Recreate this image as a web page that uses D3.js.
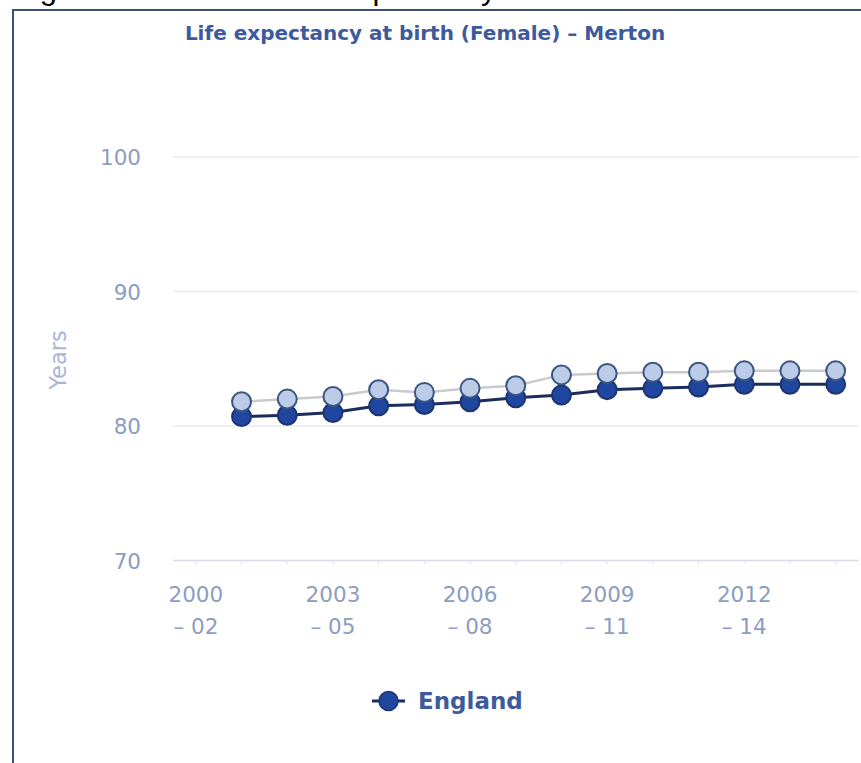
<!DOCTYPE html>
<html>
<head>
<meta charset="utf-8">
<script src="https://cdn.jsdelivr.net/npm/d3@7/dist/d3.min.js"></script>
<style>
  html, body { margin: 0; padding: 0; background: #ffffff; }
  svg { display: block; }
</style>
</head>
<body>
<script>
// Female life expectancy at birth, three-year rolling periods
const categories = [
  "2000 – 02", "2001 – 03", "2002 – 04", "2003 – 05", "2004 – 06",
  "2005 – 07", "2006 – 08", "2007 – 09", "2008 – 10", "2009 – 11",
  "2010 – 12", "2011 – 13", "2012 – 14", "2013 – 15", "2014 – 16"
];
const englandValues = [null, 80.7, 80.8, 81.0, 81.5, 81.6, 81.8, 82.1, 82.3, 82.7, 82.8, 82.9, 83.1, 83.1, 83.1];
const mertonValues  = [null, 81.8, 82.0, 82.2, 82.7, 82.5, 82.8, 83.0, 83.8, 83.9, 84.0, 84.0, 84.1, 84.1, 84.1];
const yTicks = [70, 80, 90, 100];
const xLabelEvery = 3;

const W = 861, H = 763;
const svg = d3.select("body").append("svg").attr("width", W).attr("height", H);

// Caption above the framed chart (only its descenders fall inside the page)
svg.append("text")
  .attr("x", 14).attr("y", -1)
  .attr("font-family", "Liberation Sans, Arial, sans-serif")
  .attr("font-size", 31)
  .attr("fill", "#000")
  .text("Figure 13 – Female life expectancy at birth");

// Frame
svg.append("rect")
  .attr("x", 13).attr("y", 10)
  .attr("width", W + 20).attr("height", H + 20)
  .attr("fill", "#ffffff")
  .attr("stroke", "#3d5078").attr("stroke-width", 2);

// Title
svg.append("text")
  .attr("x", 425).attr("y", 40)
  .attr("text-anchor", "middle")
  .attr("font-family", "DejaVu Sans, Verdana, sans-serif")
  .attr("font-weight", "bold")
  .attr("font-size", 20)
  .attr("fill", "#3d5a9c")
  .text("Life expectancy at birth (Female) – Merton");

const plot = { left: 173, right: 858.5, top: 157, bottom: 560.5 };

const x = d3.scaleBand().domain(categories).range([plot.left, plot.right]).paddingInner(0).paddingOuter(0);
const y = d3.scaleLinear().domain([70, 100]).range([plot.bottom, plot.top]);
const cx = c => x(c) + x.bandwidth() / 2;

// Horizontal gridlines
svg.append("g").selectAll("line").data(yTicks).join("line")
  .attr("x1", plot.left).attr("x2", plot.right)
  .attr("y1", d => y(d)).attr("y2", d => y(d))
  .attr("stroke", d => d === 70 ? "#d6dbe6" : "#e9ebef")
  .attr("stroke-width", 1.5);

// Y axis labels
const yAxis = d3.axisLeft(y).tickValues(yTicks).tickSize(0).tickPadding(0);
const gy = svg.append("g").attr("transform", `translate(${141},0)`).call(yAxis);
gy.select(".domain").remove();
gy.selectAll("text")
  .attr("font-family", "DejaVu Sans, Verdana, sans-serif")
  .attr("font-size", 21.5)
  .attr("fill", "#8c9cc4")
  .attr("dy", "0.36em");

// Y axis title
svg.append("text")
  .attr("transform", `translate(66,360) rotate(-90)`)
  .attr("text-anchor", "middle")
  .attr("font-family", "DejaVu Sans, Verdana, sans-serif")
  .attr("font-size", 22.5)
  .attr("fill", "#a9b6d6")
  .text("Years");

// X axis ticks and labels
const xAxis = d3.axisBottom(x).tickSize(4).tickSizeOuter(0)
  .tickFormat((d, i) => i % xLabelEvery === 0 ? d : "");
const gx = svg.append("g").attr("transform", `translate(0,${plot.bottom})`).call(xAxis);
gx.select(".domain").remove();
gx.selectAll(".tick line").attr("stroke", "#dfe3ea");
gx.selectAll(".tick text").each(function(d, i) {
  const t = d3.select(this);
  t.text(null)
    .attr("font-family", "DejaVu Sans, Verdana, sans-serif")
    .attr("font-size", 21.5)
    .attr("fill", "#8c9cc4")
    .attr("y", 41)
    .attr("dy", 0);
  if (i % xLabelEvery !== 0) return;
  const parts = d.split(" – ");
  t.append("tspan").attr("x", 0).attr("dy", 0).text(parts[0]);
  t.append("tspan").attr("x", 0).attr("dy", 32).text("– " + parts[1]);
});

// Series
const series = [
  { name: "England", values: englandValues, line: "#1c2d5d", lineWidth: 3, fill: "#1f47a0", stroke: "#1d3470" },
  { name: "Merton",  values: mertonValues,  line: "#c9cacd", lineWidth: 2.5, fill: "#bccbe8", stroke: "#3b5581" }
];

const lineGen = d3.line()
  .defined(d => d.v != null)
  .x(d => cx(d.c))
  .y(d => y(d.v));

series.forEach(s => {
  const pts = categories.map((c, i) => ({ c, v: s.values[i] }));
  const g = svg.append("g");
  g.append("path")
    .datum(pts)
    .attr("d", lineGen)
    .attr("fill", "none")
    .attr("stroke", s.line)
    .attr("stroke-width", s.lineWidth);
  g.selectAll("circle").data(pts.filter(p => p.v != null)).join("circle")
    .attr("cx", d => cx(d.c))
    .attr("cy", d => y(d.v))
    .attr("r", 9.5)
    .attr("fill", s.fill)
    .attr("stroke", s.stroke)
    .attr("stroke-width", 2);
});

// Legend
const lg = svg.append("g").attr("transform", "translate(372,701)");
lg.append("line").attr("x1", 0).attr("x2", 33).attr("y1", 0).attr("y2", 0)
  .attr("stroke", "#1c2d5d").attr("stroke-width", 3);
lg.append("circle").attr("cx", 16.5).attr("cy", 0).attr("r", 9.5)
  .attr("fill", "#1f47a0").attr("stroke", "#1d3470").attr("stroke-width", 1.5);
lg.append("text")
  .attr("x", 46).attr("y", 8)
  .attr("font-family", "DejaVu Sans, Verdana, sans-serif")
  .attr("font-weight", "bold")
  .attr("font-size", 23)
  .attr("fill", "#3d5a9c")
  .text("England");
</script>
</body>
</html>
